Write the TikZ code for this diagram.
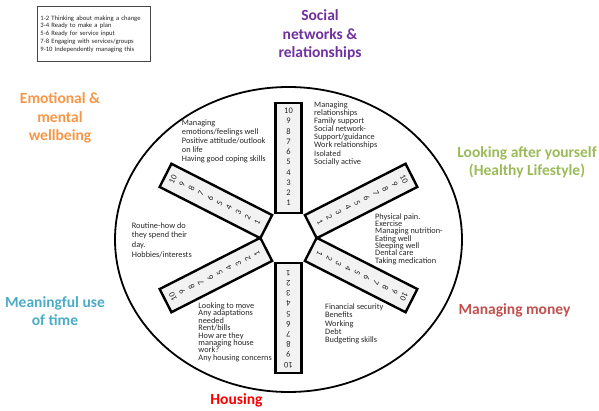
\documentclass[tikz,border=0pt]{standalone}
\usepackage{fontspec}
\setmainfont{Carlito}[BoldFont={Carlito Bold}]
\usepackage{xcolor}
\usepackage{tikz}
\usetikzlibrary{positioning}
\definecolor{socclr}{RGB}{112,48,160}
\definecolor{emoclr}{RGB}{247,150,70}
\definecolor{lifeclr}{RGB}{155,187,89}
\definecolor{moneyclr}{RGB}{192,80,77}
\definecolor{timeclr}{RGB}{75,172,198}
\definecolor{houseclr}{RGB}{255,0,0}
\definecolor{barclr}{RGB}{242,242,242}
\definecolor{txtclr}{RGB}{38,38,38}
\definecolor{keyclr}{RGB}{70,70,70}
\setlength{\lineskiplimit}{-10pt}
\tikzset{
    area/.style={font=\fontsize{15.5}{18.5}\selectfont\bfseries,align=center,inner sep=0pt},
    note/.style={anchor=north west,align=left,inner sep=0pt,text=txtclr,font=\fontsize{8.3}{8.1}\selectfont},
    spoke/.style={draw=black,line width=2.4pt,fill=barclr},
    num/.style={font=\fontsize{8.5}{8.5}\selectfont,inner sep=0pt,text=txtclr},
    rim/.style={draw=black,line width=1.8pt},
}

\begin{document}
\begin{tikzpicture}[x=1pt,y=1pt]
\useasboundingbox (-288.5,-173) rectangle (310.5,238);
% wheel
\coordinate (hub) at (0,0);
\draw[rim] (0,-1.5) ellipse [x radius=173.5,y radius=152.5];

% spokes, 1 at the hub, 10 at the rim
\foreach \a/\r in {90/135,27/138,-27/138,270/135,207/138,153/138}{
  \draw[spoke,rotate=\a] (25,-13) rectangle (\r,13);
  \foreach \k in {1,...,10}
    \node[num,rotate=\a-90] (n\a-\k) at (\a:{25+(\r-25)*(0.091+0.0929*(\k-1))}) {\k};
}

% what each area covers
\node[note] (socnote) at (25.5,136.5) {Managing\\relationships\\Family support\\Social network-\\Support/guidance\\Work relationships\\Isolated\\Socially active};
\node[note,font=\fontsize{8.3}{9.2}\selectfont] (emonote) at (-106.8,118.8) {Managing\\emotions/feelings well\\Positive attitude/outlook\\on life\\Having good coping skills};
\node[note,font=\fontsize{8.3}{7.35}\selectfont] (lifenote) at (86.5,24.8) {Physical pain.\\Exercise\\Managing nutrition-\\Eating well\\Sleeping well\\Dental care\\Taking medication};
\node[note,font=\fontsize{8.3}{9.8}\selectfont] (timenote) at (-156.8,15.8) {Routine-how do\\they spend their\\day.\\Hobbies/interests};
\node[note,font=\fontsize{8.3}{7.4}\selectfont] (housenote) at (-90.2,-64.5) {Looking to move\\Any adaptations\\needed\\Rent/bills\\How are they\\managing house\\work?\\Any housing concerns};
\node[note,font=\fontsize{8.3}{8.2}\selectfont] (moneynote) at (36.5,-65.8) {Financial security\\Benefits\\Working\\Debt\\Budgeting skills};

% areas
\node[area,text=socclr] (social) at (31.5,203) {Social\\networks \&\\relationships};
\node[area,text=emoclr] (emotion) at (-228.5,120) {Emotional \&\\mental\\wellbeing};
\node[area,text=lifeclr] (life) at (238.5,75.5) {Looking after yourself\\(Healthy Lifestyle)};
\node[area,text=moneyclr] (money) at (226,-72) {Managing money};
\node[area,text=timeclr] (time) at (-233.5,-73) {Meaningful use\\of time};
\node[area,text=houseclr] (house) at (-52,-162) {Housing};

% key
\node[draw=keyclr,line width=0.9pt,fill=white,anchor=north west,align=left,text width=107pt,inner xsep=3pt,inner ysep=9pt,text=txtclr,font=\fontsize{6.6}{7.85}\selectfont] (key) at (-251.5,232) {1-2 Thinking about making a change\\3-4 Ready to make a plan\\5-6 Ready for service input\\7-8 Engaging with services/groups\\9-10 Independently managing this};
\end{tikzpicture}
\end{document}
